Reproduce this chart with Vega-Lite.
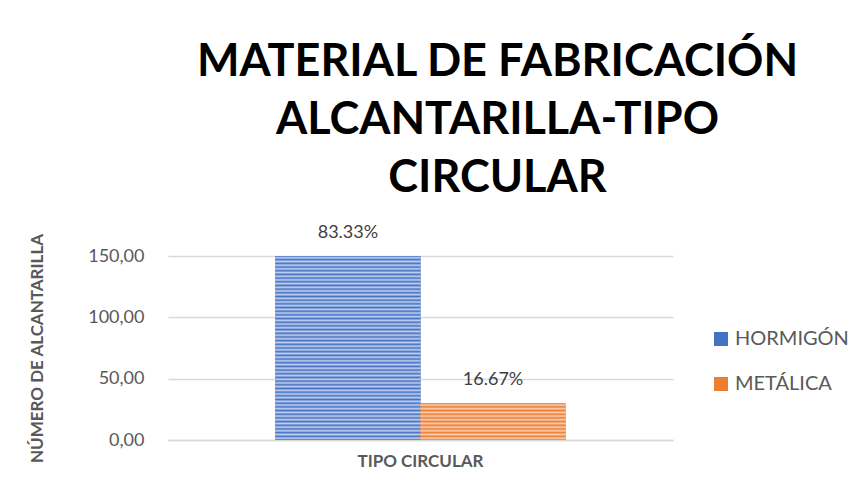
{
  "$schema": "https://vega.github.io/schema/vega-lite/v6.json",
  "width": 505,
  "height": 184,
  "autosize": "none",
  "padding": {"left": 168, "top": 256, "right": 192, "bottom": 56},
  "background": "#ffffff",
  "config": {"view": {"stroke": null}},
  "title": {
    "text": ["MATERIAL DE FABRICACIÓN", "ALCANTARILLA-TIPO", "CIRCULAR"],
    "font": "Lato",
    "fontSize": 45,
    "fontWeight": "bold",
    "color": "#000000",
    "lineHeight": 58,
    "offset": 23,
    "dx": 77,
    "anchor": "middle",
    "frame": "group"
  },
  "data": {
    "values": [
      {"tipo": "TIPO CIRCULAR", "material": "HORMIGÓN", "cantidad": 150, "pct": "83.33%"},
      {"tipo": "TIPO CIRCULAR", "material": "METÁLICA", "cantidad": 30, "pct": "16.67%"}
    ]
  },
  "encoding": {
    "x": {
      "field": "tipo",
      "type": "nominal",
      "scale": {"paddingOuter": 0.37, "paddingInner": 0},
      "axis": {
        "title": null,
        "labelAngle": 0,
        "labelFont": "Lato",
        "labelFontSize": 17,
        "labelFontWeight": "bold",
        "labelColor": "#595959",
        "ticks": false,
        "domainColor": "#D9D9D9",
        "domainWidth": 1.5,
        "labelPadding": 13
      }
    },
    "xOffset": {
      "field": "material",
      "type": "nominal",
      "sort": ["HORMIGÓN", "METÁLICA"],
      "scale": {"paddingInner": 0, "paddingOuter": 0}
    },
    "y": {
      "field": "cantidad",
      "type": "quantitative",
      "scale": {"domain": [0, 150], "nice": false},
      "axis": {
        "title": "NÚMERO DE ALCANTARILLA",
        "values": [0, 50, 100, 150],
        "labelExpr": "replace(format(datum.value, '.2f'), '.', ',')",
        "domain": false,
        "ticks": false,
        "labelPadding": 24,
        "labelFont": "Lato",
        "labelFontSize": 18,
        "labelColor": "#595959",
        "gridColor": "#D9D9D9",
        "gridWidth": 1.5,
        "titleFont": "Lato",
        "titleFontSize": 17,
        "titleFontWeight": "bold",
        "titleColor": "#595959",
        "titleAngle": -90,
        "titleX": -131,
        "titleY": 92,
        "titleAlign": "center",
        "titleBaseline": "middle"
      }
    }
  },
  "layer": [
    {
      "mark": {"type": "bar"},
      "encoding": {
        "color": {
          "field": "material",
          "type": "nominal",
          "scale": {"domain": ["HORMIGÓN", "METÁLICA"], "range": ["#4472C4", "#ED7D31"]},
          "legend": {
            "orient": "none",
            "legendX": 543,
            "legendY": 73,
            "title": null,
            "symbolType": "square",
            "symbolSize": 196,
            "symbolStrokeWidth": 0,
            "labelFont": "Lato",
            "labelFontSize": 20,
            "labelColor": "#595959",
            "labelOffset": 4,
            "rowPadding": 25
          }
        }
      }
    },
    {
      "transform": [{"filter": "datum.material === 'HORMIGÓN'"}],
      "mark": {
        "type": "bar",
        "fill": {
          "gradient": "linear", "x1": 0, "y1": 0, "x2": 0, "y2": 1,
          "stops": [
            {"offset": 0.00, "color": "#4472C4"}, {"offset": 0.01, "color": "#C3D1EE"},
            {"offset": 0.02, "color": "#4472C4"}, {"offset": 0.03, "color": "#C3D1EE"},
            {"offset": 0.04, "color": "#4472C4"}, {"offset": 0.05, "color": "#C3D1EE"},
            {"offset": 0.06, "color": "#4472C4"}, {"offset": 0.07, "color": "#C3D1EE"},
            {"offset": 0.08, "color": "#4472C4"}, {"offset": 0.09, "color": "#C3D1EE"},
            {"offset": 0.10, "color": "#4472C4"}, {"offset": 0.11, "color": "#C3D1EE"},
            {"offset": 0.12, "color": "#4472C4"}, {"offset": 0.13, "color": "#C3D1EE"},
            {"offset": 0.14, "color": "#4472C4"}, {"offset": 0.15, "color": "#C3D1EE"},
            {"offset": 0.16, "color": "#4472C4"}, {"offset": 0.17, "color": "#C3D1EE"},
            {"offset": 0.18, "color": "#4472C4"}, {"offset": 0.19, "color": "#C3D1EE"},
            {"offset": 0.20, "color": "#4472C4"}, {"offset": 0.21, "color": "#C3D1EE"},
            {"offset": 0.22, "color": "#4472C4"}, {"offset": 0.23, "color": "#C3D1EE"},
            {"offset": 0.24, "color": "#4472C4"}, {"offset": 0.25, "color": "#C3D1EE"},
            {"offset": 0.26, "color": "#4472C4"}, {"offset": 0.27, "color": "#C3D1EE"},
            {"offset": 0.28, "color": "#4472C4"}, {"offset": 0.29, "color": "#C3D1EE"},
            {"offset": 0.30, "color": "#4472C4"}, {"offset": 0.31, "color": "#C3D1EE"},
            {"offset": 0.32, "color": "#4472C4"}, {"offset": 0.33, "color": "#C3D1EE"},
            {"offset": 0.34, "color": "#4472C4"}, {"offset": 0.35, "color": "#C3D1EE"},
            {"offset": 0.36, "color": "#4472C4"}, {"offset": 0.37, "color": "#C3D1EE"},
            {"offset": 0.38, "color": "#4472C4"}, {"offset": 0.39, "color": "#C3D1EE"},
            {"offset": 0.40, "color": "#4472C4"}, {"offset": 0.41, "color": "#C3D1EE"},
            {"offset": 0.42, "color": "#4472C4"}, {"offset": 0.43, "color": "#C3D1EE"},
            {"offset": 0.44, "color": "#4472C4"}, {"offset": 0.45, "color": "#C3D1EE"},
            {"offset": 0.46, "color": "#4472C4"}, {"offset": 0.47, "color": "#C3D1EE"},
            {"offset": 0.48, "color": "#4472C4"}, {"offset": 0.49, "color": "#C3D1EE"},
            {"offset": 0.50, "color": "#4472C4"}, {"offset": 0.51, "color": "#C3D1EE"},
            {"offset": 0.52, "color": "#4472C4"}, {"offset": 0.53, "color": "#C3D1EE"},
            {"offset": 0.54, "color": "#4472C4"}, {"offset": 0.55, "color": "#C3D1EE"},
            {"offset": 0.56, "color": "#4472C4"}, {"offset": 0.57, "color": "#C3D1EE"},
            {"offset": 0.58, "color": "#4472C4"}, {"offset": 0.59, "color": "#C3D1EE"},
            {"offset": 0.60, "color": "#4472C4"}, {"offset": 0.61, "color": "#C3D1EE"},
            {"offset": 0.62, "color": "#4472C4"}, {"offset": 0.63, "color": "#C3D1EE"},
            {"offset": 0.64, "color": "#4472C4"}, {"offset": 0.65, "color": "#C3D1EE"},
            {"offset": 0.66, "color": "#4472C4"}, {"offset": 0.67, "color": "#C3D1EE"},
            {"offset": 0.68, "color": "#4472C4"}, {"offset": 0.69, "color": "#C3D1EE"},
            {"offset": 0.70, "color": "#4472C4"}, {"offset": 0.71, "color": "#C3D1EE"},
            {"offset": 0.72, "color": "#4472C4"}, {"offset": 0.73, "color": "#C3D1EE"},
            {"offset": 0.74, "color": "#4472C4"}, {"offset": 0.75, "color": "#C3D1EE"},
            {"offset": 0.76, "color": "#4472C4"}, {"offset": 0.77, "color": "#C3D1EE"},
            {"offset": 0.78, "color": "#4472C4"}, {"offset": 0.79, "color": "#C3D1EE"},
            {"offset": 0.80, "color": "#4472C4"}, {"offset": 0.81, "color": "#C3D1EE"},
            {"offset": 0.82, "color": "#4472C4"}, {"offset": 0.83, "color": "#C3D1EE"},
            {"offset": 0.84, "color": "#4472C4"}, {"offset": 0.85, "color": "#C3D1EE"},
            {"offset": 0.86, "color": "#4472C4"}, {"offset": 0.87, "color": "#C3D1EE"},
            {"offset": 0.88, "color": "#4472C4"}, {"offset": 0.89, "color": "#C3D1EE"},
            {"offset": 0.90, "color": "#4472C4"}, {"offset": 0.91, "color": "#C3D1EE"},
            {"offset": 0.92, "color": "#4472C4"}, {"offset": 0.93, "color": "#C3D1EE"},
            {"offset": 0.94, "color": "#4472C4"}, {"offset": 0.95, "color": "#C3D1EE"},
            {"offset": 0.96, "color": "#4472C4"}, {"offset": 0.97, "color": "#C3D1EE"},
            {"offset": 0.98, "color": "#4472C4"}, {"offset": 0.99, "color": "#C3D1EE"},
            {"offset": 1.00, "color": "#4472C4"}
          ]
        }
      }
    },
    {
      "transform": [{"filter": "datum.material === 'METÁLICA'"}],
      "mark": {
        "type": "bar",
        "fill": {
          "gradient": "linear", "x1": 0, "y1": 0, "x2": 0, "y2": 1,
          "stops": [
            {"offset": 0.00, "color": "#ED7D31"}, {"offset": 0.05, "color": "#F9CFB2"},
            {"offset": 0.10, "color": "#ED7D31"}, {"offset": 0.15, "color": "#F9CFB2"},
            {"offset": 0.20, "color": "#ED7D31"}, {"offset": 0.25, "color": "#F9CFB2"},
            {"offset": 0.30, "color": "#ED7D31"}, {"offset": 0.35, "color": "#F9CFB2"},
            {"offset": 0.40, "color": "#ED7D31"}, {"offset": 0.45, "color": "#F9CFB2"},
            {"offset": 0.50, "color": "#ED7D31"}, {"offset": 0.55, "color": "#F9CFB2"},
            {"offset": 0.60, "color": "#ED7D31"}, {"offset": 0.65, "color": "#F9CFB2"},
            {"offset": 0.70, "color": "#ED7D31"}, {"offset": 0.75, "color": "#F9CFB2"},
            {"offset": 0.80, "color": "#ED7D31"}, {"offset": 0.85, "color": "#F9CFB2"},
            {"offset": 0.90, "color": "#ED7D31"}, {"offset": 0.95, "color": "#F9CFB2"},
            {"offset": 1.00, "color": "#ED7D31"}
          ]
        }
      }
    },
    {
      "mark": {
        "type": "text",
        "baseline": "middle",
        "dy": -23,
        "font": "Lato",
        "fontSize": 18,
        "color": "#404040"
      },
      "encoding": {
        "text": {"field": "pct", "type": "nominal"}
      }
    }
  ]
}
